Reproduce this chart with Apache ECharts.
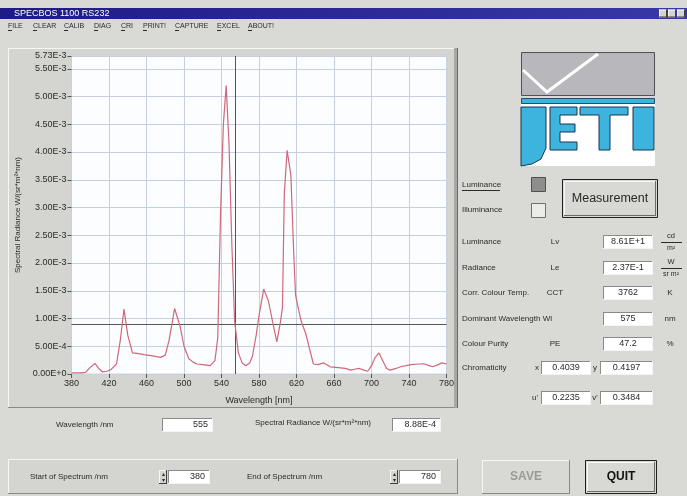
<!DOCTYPE html>
<html>
<head>
<meta charset="utf-8">
<script src="https://cdn.jsdelivr.net/npm/echarts@6/dist/echarts.min.js"></script>
<style>
  html, body { margin: 0; padding: 0; background: #d8d8d4; }
  #chart { width: 687px; height: 496px; }
</style>
</head>
<body>
<div id="chart"></div>
<script>
// spectrum: wavelength [nm] / spectral radiance W/(sr*m²*nm)
const wavelengths = [380, 385, 390, 395, 400, 405, 409, 413, 418, 422, 428, 432, 436, 440, 445, 450, 457, 465, 475, 480,
  484, 490, 496, 500, 505, 510, 514, 520, 528, 533, 536, 539, 542, 545, 548, 551, 554, 558, 562, 566,
  570, 573, 577, 580, 585, 590, 595, 599, 603, 605, 607, 610, 614, 617, 619, 622, 625, 630, 634, 638,
  643, 649, 656, 662, 667, 672, 678, 683, 687, 692, 696, 700, 704, 708, 712, 716, 720, 726, 731, 737,
  742, 750, 756, 760, 765, 770, 775, 780];
const radiance = [0.00002, 0.00002, 0.00002, 0.00003, 0.00012, 0.00019, 0.00010, 0.00004, 0.00005, 0.00008,
  0.00018, 0.00060, 0.00117, 0.00070, 0.00038, 0.00037, 0.00035, 0.00033, 0.00030, 0.00034,
  0.00060, 0.00118, 0.00085, 0.00050, 0.00028, 0.00021, 0.00018, 0.00017, 0.00015, 0.00024,
  0.00065, 0.00290, 0.00450, 0.00520, 0.00415, 0.00235, 0.00095, 0.00038, 0.00020, 0.00015,
  0.00020, 0.00032, 0.00070, 0.00105, 0.00153, 0.00132, 0.00090, 0.00058, 0.00095, 0.00120,
  0.00325, 0.00403, 0.00358, 0.00220, 0.00142, 0.00118, 0.00095, 0.00072, 0.00045, 0.00018,
  0.00017, 0.00020, 0.00013, 0.00012, 0.00011, 0.00010, 0.00007, 0.00009, 0.00010, 0.00007,
  0.00005, 0.00015, 0.00030, 0.00038, 0.00024, 0.00010, 0.00007, 0.00010, 0.00013, 0.00015,
  0.00017, 0.00018, 0.000185, 0.00016, 0.00013, 0.00016, 0.00020, 0.00018];

const xRange = [380, 780];
const xStep = 40;
const yMaxValue = 0.00573;
const yStep = 0.0005;
const cursorWavelength = 555;
const cursorRadiance = 0.000888;

const menuItems = ["FILE", "CLEAR", "CALIB", "DIAG", "CRI", "PRINT!", "CAPTURE", "EXCEL", "ABOUT!"];
const menuX = [8, 33, 64, 94, 121, 143, 175, 217, 248];

const readings = [
  { label: "Luminance", sym: "Lv", value: "8.61E+1", unit: ["cd", "m²"] },
  { label: "Radiance", sym: "Le", value: "2.37E-1", unit: ["W", "sr m²"] },
  { label: "Corr. Colour Temp.", sym: "CCT", value: "3762", unit: "K" },
  { label: "Dominant Wavelength Wl", sym: "", value: "575", unit: "nm" },
  { label: "Colour Purity", sym: "PE", value: "47.2", unit: "%" },
];
const chromaticity = { x: "0.4039", y: "0.4197", u: "0.2235", v: "0.3484" };

const FONT = '"Liberation Sans Narrow", "Liberation Sans", Arial, sans-serif';
const INK = "#2a2a2a";

function sciLabel(v) {
  if (v === 0) return "0.00E+0";
  let e = Math.floor(Math.log10(v));
  let m = v / Math.pow(10, e);
  if (m >= 9.995) { m /= 10; e += 1; }
  return m.toFixed(2) + "E" + (e >= 0 ? "+" + e : e);
}

// --- little win98 widgets drawn with the graphic component
const g = [];
function rect(x, y, w, h, fill, stroke) {
  g.push({ type: "rect", shape: { x, y, width: w, height: h }, style: { fill, stroke: stroke || null, lineWidth: 1 }, silent: true });
}
function line(x1, y1, x2, y2, color, w) {
  g.push({ type: "line", shape: { x1, y1, x2, y2 }, style: { stroke: color, lineWidth: w || 1 }, silent: true });
}
function text(t, x, y, size, opts) {
  opts = opts || {};
  g.push({ type: "text", silent: true, style: {
    text: t, x, y, font: (opts.weight || "normal") + " " + size + "px " + (opts.family || FONT),
    fill: opts.color || INK, align: opts.align || "left", verticalAlign: "middle" } });
}
function sunken(x, y, w, h) {
  rect(x, y, w, h, "#ffffff");
  line(x, y + 0.5, x + w, y + 0.5, "#8a8a8a");
  line(x + 0.5, y, x + 0.5, y + h, "#8a8a8a");
  line(x, y + h - 0.5, x + w, y + h - 0.5, "#f4f4f4");
  line(x + w - 0.5, y, x + w - 0.5, y + h, "#f4f4f4");
}
function raised(x, y, w, h, fill, dark) {
  rect(x, y, w, h, fill || "#d6d6d2");
  line(x, y + 0.5, x + w, y + 0.5, "#f6f6f4");
  line(x + 0.5, y, x + 0.5, y + h, "#f6f6f4");
  line(x, y + h - 0.5, x + w, y + h - 0.5, dark || "#8a8a88");
  line(x + w - 0.5, y, x + w - 0.5, y + h, dark || "#8a8a88");
}
function field(x, y, w, h, val, align) {
  sunken(x, y, w, h);
  if (align === "right") text(val, x + w - 5, y + h / 2, 9, { align: "right" });
  else text(val, x + w / 2, y + h / 2, 9, { align: "center" });
}

// window chrome
rect(0, 0, 687, 496, "#d9d9d5");
g.push({ type: "rect", shape: { x: 0, y: 8, width: 687, height: 11 }, silent: true,
  style: { fill: new echarts.graphic.LinearGradient(0, 0, 1, 0, [{ offset: 0, color: "#1e1a86" }, { offset: 1, color: "#3a38a6" }]) } });
text("SPECBOS 1100 RS232", 14, 13.5, 9, { color: "#ffffff" });
[659, 668, 677].forEach(function (bx) { raised(bx, 9.5, 8, 8, "#d4d4d0", "#404040"); });
menuItems.forEach(function (m, i) {
  text(m, menuX[i], 26, 7);
  line(menuX[i], 30.5, menuX[i] + 4, 30.5, INK);
});

// chart frame
raised(8, 48, 450, 360, "#d4d4d0");
rect(454, 48, 4, 360, "#a8a8a6");
line(457.5, 48, 457.5, 408, "#6a6a68");

// logo
rect(521.5, 52.5, 133, 43, "#b8b8bc", "#505058");
g.push({ type: "polyline", shape: { points: [[523, 70], [547, 92], [598, 54]] }, style: { stroke: "#ffffff", lineWidth: 3, fill: null }, silent: true });
rect(521.5, 98.5, 133, 5, "#3db4de", "#2a4a66");
rect(521, 104, 134, 62, "#ffffff");
const letterStyle = { fill: "#3db4de", stroke: "#1c3550", lineWidth: 1 };
[
  [[521, 107], [546, 107], [546, 148], [541, 159], [532, 164], [521, 166]],
  [[550, 107], [577, 107], [577, 115], [560, 115], [560, 124], [575, 124], [575, 132], [560, 132], [560, 142], [577, 142], [577, 150], [550, 150]],
  [[580, 107], [628, 107], [628, 115], [610, 115], [610, 150], [599, 150], [599, 115], [580, 115]],
  [[633, 107], [654, 107], [654, 150], [633, 150]],
].forEach(function (pts) { g.push({ type: "polygon", shape: { points: pts }, style: letterStyle, silent: true }); });

// luminance / illuminance toggles and measurement button
text("Luminance", 462, 185, 8);
line(462, 190.5, 500, 190.5, INK);
text("Illuminance", 462, 210, 8);
rect(531.5, 177.5, 14, 14, "#8e8e8c", "#505050");
rect(531.5, 203.5, 14, 14, "#ececea", "#707070");
rect(562.5, 179.5, 95, 38, null, "#202020");
raised(564, 181, 92, 35, "#d8d8d4", "#6a6a68");
text("Measurement", 610, 199, 12.5, { align: "center", family: '"Liberation Sans", Arial, sans-serif' });

// readings column
const rowY = [242, 268, 293, 319, 344];
readings.forEach(function (r, i) {
  const y = rowY[i];
  text(r.label, 462, y, 8);
  if (r.sym) text(r.sym, 555, y, 8, { align: "center" });
  field(603, y - 7, 50, 14, r.value);
  if (Array.isArray(r.unit)) {
    text(r.unit[0], 671, y - 6, 7.5, { align: "center" });
    line(661, y + 0.5, 682, y + 0.5, INK);
    text(r.unit[1], 671, y + 6, 7, { align: "center" });
  } else {
    text(r.unit, 670, y, 8, { align: "center" });
  }
});
text("Chromaticity", 462, 368, 8);
text("x", 537, 368, 8, { align: "center" });
field(541, 361, 50, 14, chromaticity.x);
text("y", 595, 368, 8, { align: "center" });
field(600, 361, 53, 14, chromaticity.y);
text("u'", 535, 398, 8, { align: "center" });
field(541, 391, 50, 14, chromaticity.u);
text("v'", 595, 398, 8, { align: "center" });
field(600, 391, 53, 14, chromaticity.v);

// cursor read-out under the chart
text("Wavelength /nm", 56, 425, 8);
field(162, 418, 51, 14, String(cursorWavelength), "right");
text("Spectral Radiance W/(sr*m²*nm)", 255, 423, 8);
field(392, 418, 49, 14, sciLabel(cursorRadiance), "right");

// spectrum range panel and buttons
raised(8, 459, 450, 35, "#d4d4d0");
text("Start of Spectrum /nm", 30, 477, 8);
raised(159, 470, 8, 14, "#d4d4d0", "#404040");
text("▴", 163, 474, 6, { align: "center" });
text("▾", 163, 480, 6, { align: "center" });
field(168, 470, 42, 14, String(xRange[0]), "right");
text("End of Spectrum /nm", 247, 477, 8);
raised(390, 470, 8, 14, "#d4d4d0", "#404040");
text("▴", 394, 474, 6, { align: "center" });
text("▾", 394, 480, 6, { align: "center" });
field(399, 470, 42, 14, String(xRange[1]), "right");

raised(482, 460, 88, 34, "#d8d8d4", "#8a8a88");
text("SAVE", 526, 477, 12, { align: "center", weight: "bold", color: "#9a9a98", family: '"Liberation Sans", Arial, sans-serif' });
rect(585.5, 460.5, 71, 33, null, "#202020");
raised(587, 462, 68, 30, "#d8d8d4", "#6a6a68");
text("QUIT", 621, 477, 12, { align: "center", weight: "bold", color: "#111111", family: '"Liberation Sans", Arial, sans-serif' });

const chart = echarts.init(document.getElementById("chart"), null, { renderer: "canvas" });
chart.setOption({
  animation: false,
  graphic: { elements: g },
  grid: { left: 71.5, top: 56, width: 375, height: 318, show: true, backgroundColor: "#fcfdff", borderColor: "#d0d6e2", borderWidth: 1, z: 3 },
  xAxis: {
    type: "value", min: xRange[0], max: xRange[1], interval: xStep,
    name: "Wavelength [nm]", nameLocation: "middle", nameGap: 22,
    nameTextStyle: { fontFamily: FONT, fontSize: 9, color: INK },
    axisLine: { show: false },
    axisTick: { show: true, length: 4, inside: false, lineStyle: { color: "#555" } },
    axisLabel: { fontFamily: FONT, fontSize: 9, color: INK, margin: 5 },
    splitLine: { show: true, lineStyle: { color: "#c8cfdf", width: 1 } },
    z: 4,
  },
  yAxis: {
    type: "value", min: 0, max: yMaxValue, interval: yStep,
    name: "Spectral Radiance W/(sr*m²*nm)", nameLocation: "middle", nameGap: 49, nameRotate: 90,
    nameTextStyle: { fontFamily: FONT, fontSize: 8, color: INK },
    axisLine: { show: false },
    axisTick: { show: true, length: 4, lineStyle: { color: "#555" } },
    axisLabel: { fontFamily: FONT, fontSize: 9, color: INK, margin: 5, formatter: sciLabel },
    splitLine: { show: true, lineStyle: { color: "#c8cfdf", width: 1 } },
    z: 4,
  },
  series: [{
    type: "line", z: 5,
    data: wavelengths.map(function (w, i) { return [w, radiance[i]]; }),
    showSymbol: false, smooth: false,
    lineStyle: { color: "#cf6878", width: 1.2 },
    markLine: {
      silent: true, symbol: "none", label: { show: false }, animation: false, precision: 10,
      lineStyle: { color: "#555555", width: 1, type: "solid" },
      data: [{ xAxis: cursorWavelength }, { yAxis: cursorRadiance }],
    },
  }],
});
</script>
</body>
</html>
